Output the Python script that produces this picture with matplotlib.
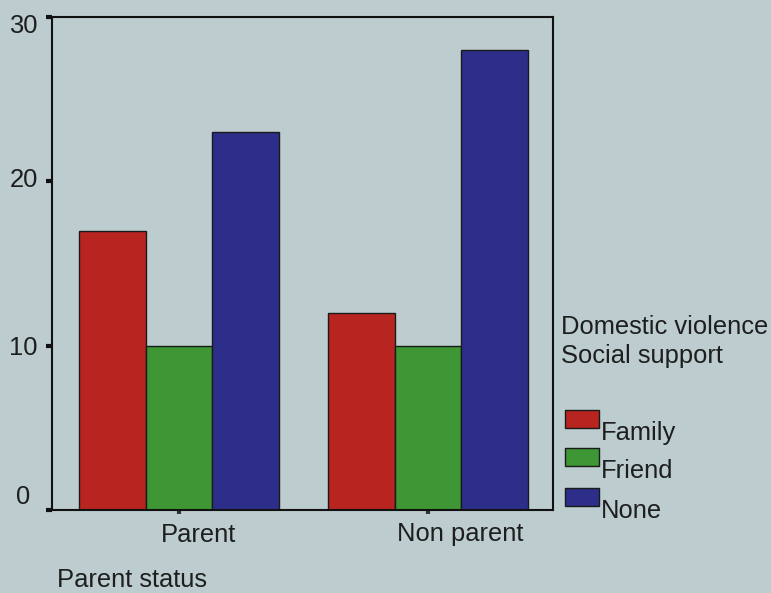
import matplotlib
matplotlib.use("Agg")
import matplotlib.pyplot as plt
from matplotlib.patches import Rectangle
from matplotlib.transforms import ScaledTranslation
import numpy as np

plt.rcParams['font.family'] = ['Liberation Sans', 'DejaVu Sans']

categories = ["Parent", "Non parent"]
series = ["Family", "Friend", "None"]
family = [17, 12]
friend = [10, 10]
none = [23, 28]
yticks = [0, 10, 20, 30]

bg = "#bccccf"
colors = ["#b8241f", "#3f9634", "#2d2e8a"]
fs = 18.4

fig = plt.figure(figsize=(7.71, 5.93), dpi=100, facecolor=bg)
ax = fig.add_axes([52/771, 1-510/593, (553-52)/771, (510-17)/593])
ax.set_facecolor(bg)

x = np.arange(len(categories))
w = 0.269
for i, (vals, c) in enumerate(zip([family, friend, none], colors)):
    ax.bar(x + (i - 1) * w, vals, width=w, color=c, edgecolor="#1a1a1a", linewidth=1.0)

ax.set_xlim(-0.51, 1.502)
ax.set_ylim(0, 30)
ax.set_yticks(yticks)
ax.set_xticks(x)
ax.set_xticklabels(categories, fontsize=fs, color="#1e1e1e")
ax.set_yticklabels([str(t) for t in yticks], fontsize=fs, color="#1e1e1e", ha="center")
ax.tick_params(axis='y', direction='out', length=4, width=3, color="#111111", pad=16.5)
ax.tick_params(axis='x', direction='out', length=3, width=3, color="#333333", pad=6)
for s in ax.spines.values():
    s.set_color("#111111")
    s.set_linewidth(1.5)

# nudge tick labels (points)
y_shift = {0: 11, 10: 0, 20: 3, 30: -5}
for lab, t in zip(ax.get_yticklabels(), yticks):
    lab.set_transform(lab.get_transform() + ScaledTranslation(0, y_shift[t] / 72, fig.dpi_scale_trans))
x_shift = [14, 23]
for lab, dx in zip(ax.get_xticklabels(), x_shift):
    lab.set_transform(lab.get_transform() + ScaledTranslation(dx / 72, 0, fig.dpi_scale_trans))

fig.text(57/771, 1-580/593, "Parent status", fontsize=fs, color="#1e1e1e", va="center", ha="left")

# legend block
fig.text(561/771, 1-327/593, "Domestic violence", fontsize=fs, color="#1e1e1e", va="center", ha="left")
fig.text(561/771, 1-356/593, "Social support", fontsize=fs, color="#1e1e1e", va="center", ha="left")
patch_tops = [410, 448, 488]
for top, c, lab in zip(patch_tops, colors, series):
    fig.patches.append(Rectangle((565/771, 1-(top+18)/593), 34/771, 18/593,
                                 transform=fig.transFigure, facecolor=c,
                                 edgecolor="#1a1a1a", linewidth=1.0))
    fig.text(601/771, 1-(top+23)/593, lab, fontsize=fs, color="#1e1e1e", va="center", ha="left")

fig.savefig("out.png", dpi=100, facecolor=bg)
